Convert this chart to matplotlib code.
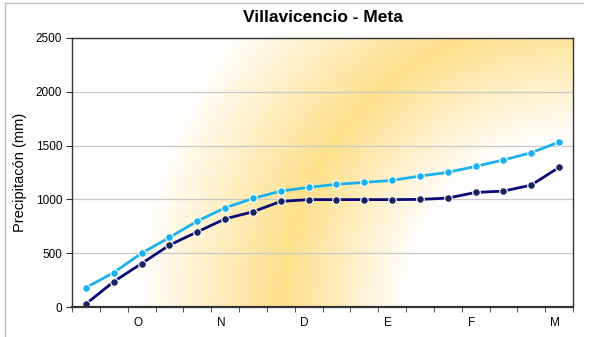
import matplotlib

matplotlib.use("Agg")

import matplotlib.pyplot as plt
import matplotlib.transforms as mtransforms
from matplotlib.lines import Line2D
from matplotlib.colors import to_rgb
import numpy as np

plt.rcParams["font.family"] = ["Liberation Sans", "DejaVu Sans"]

TITLE = "Villavicencio - Meta"
Y_LABEL = "Precipitacón (mm)"

# 18 periods, labels every third period
periods = list(range(18))
tick_positions = [2, 5, 8, 11, 14, 17]
tick_labels = ["O", "N", "D", "E", "F", "M"]

upper_series = [180, 320, 500, 646, 798, 922, 1009, 1077, 1112, 1140,
                1158, 1177, 1217, 1251, 1307, 1366, 1434, 1533]
lower_series = [28, 236, 404, 575, 698, 819, 885, 981, 998, 998,
                998, 998, 1000, 1012, 1065, 1077, 1133, 1298]

UPPER_COLOR = "#1AB2EE"
LOWER_COLOR = "#0A0A78"
LOWER_MARKER = "#17235C"
BAND_COLOR = "#FEE08B"
GRID_COLOR = "#C8C8C8"
SPINE_COLOR = "#333333"

W, H = 592, 337
fig = plt.figure(figsize=(W / 100, H / 100), dpi=100)
fig.patch.set_facecolor("white")

ax_left, ax_right, ax_top, ax_bottom = 72, 573, 38, 307
ax = fig.add_axes([ax_left / W, (H - ax_bottom) / H,
                   (ax_right - ax_left) / W, (ax_bottom - ax_top) / H])

# background: yellow ring centred on the lower-right corner of the plot area
pw, ph = ax_right - ax_left, ax_bottom - ax_top
xx, yy = np.meshgrid(np.arange(pw) + 0.5, np.arange(ph) + 0.5)
r = np.hypot(pw - xx, yy)
peak, w_in, w_out = 290.0, 125.0, 148.0
t = np.where(r < peak, 1 - (peak - r) / w_in, 1 - (r - peak) / w_out)
t = np.clip(t, 0, 1)
band = np.array(to_rgb(BAND_COLOR))
img = (1 - t[..., None]) * np.ones(3) + t[..., None] * band
ax.imshow(img, extent=(0, 1, 0, 1), transform=ax.transAxes, origin="lower",
          aspect="auto", zorder=0, interpolation="bilinear")

ax.plot(periods, upper_series, color=UPPER_COLOR, linewidth=2.0, marker="o",
        markersize=5.5, markerfacecolor=UPPER_COLOR, markeredgecolor="white",
        markeredgewidth=0.8, zorder=4)
ax.plot(periods, lower_series, color=LOWER_COLOR, linewidth=2.0, marker="o",
        markersize=5.5, markerfacecolor=LOWER_MARKER, markeredgecolor="white",
        markeredgewidth=0.8, zorder=4)

ax.set_xlim(-0.5, 17.5)
ax.set_ylim(0, 2500)
ax.set_yticks(range(0, 2501, 500))
ax.grid(axis="y", color=GRID_COLOR, linewidth=0.9, zorder=1)
ax.set_axisbelow(False)
for gl in ax.get_ygridlines():
    gl.set_zorder(1)

ax.set_xticks(tick_positions)
ax.set_xticklabels(tick_labels)
ax.set_xticks([p - 0.5 for p in periods] + [17.5], minor=True)
ax.tick_params(axis="x", which="major", length=0, pad=7, labelsize=8.5)
ax.tick_params(axis="x", which="minor", length=3.5, direction="out",
               color=SPINE_COLOR)
ax.tick_params(axis="y", length=4, direction="out", labelsize=8.5,
               color=SPINE_COLOR, pad=3)
offset = mtransforms.ScaledTranslation(-4 / 100, 0, fig.dpi_scale_trans)
for lbl in ax.get_xticklabels():
    lbl.set_transform(lbl.get_transform() + offset)

for side, spine in ax.spines.items():
    spine.set_color(SPINE_COLOR)
    spine.set_linewidth(1.0)
    spine.set_zorder(5)
ax.spines["bottom"].set_linewidth(1.6)

ax.set_ylabel(Y_LABEL, fontsize=10.5, labelpad=6)
fig.text((ax_left + ax_right) / 2 / W, 1 - 18 / H, TITLE, ha="center",
         va="center", fontsize=12.5, fontweight="bold")

# outer chart border (top and left edges visible)
fig.add_artist(Line2D([5 / W, 5 / W], [0, 1 - 3 / H], transform=fig.transFigure,
                      color="#BDBDBD", linewidth=1.0))
fig.add_artist(Line2D([5 / W, 583 / W], [1 - 3 / H, 1 - 3 / H],
                      transform=fig.transFigure, color="#BDBDBD", linewidth=1.0))

fig.savefig("out.png", dpi=100, facecolor="white")
